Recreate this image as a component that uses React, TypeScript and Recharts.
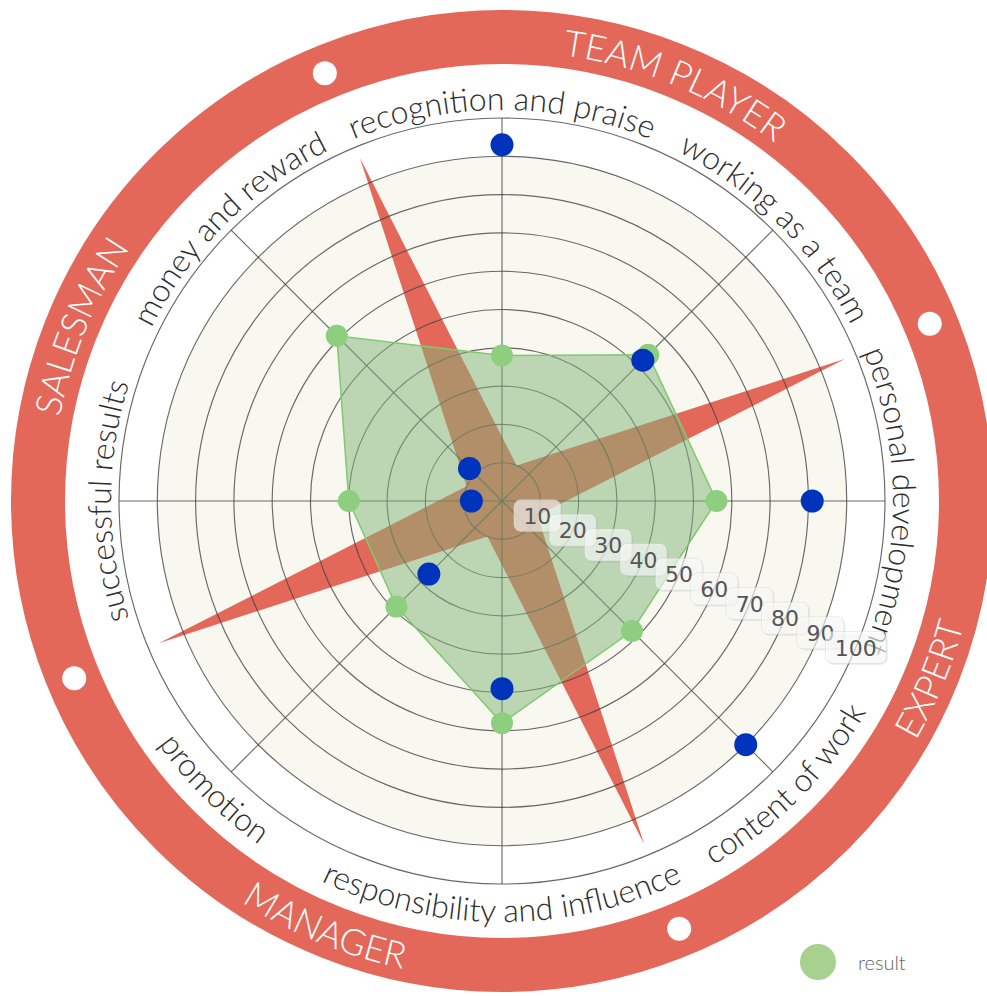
import React from 'react';
import { RadarChart, Radar, PolarGrid, PolarAngleAxis, PolarRadiusAxis, Legend } from 'recharts';

const categories = [
  'recognition and praise',
  'working as a team',
  'personal development',
  'content of work',
  'responsibility and influence',
  'promotion',
  'successful results',
  'money and reward',
];
const resultValues = [38, 54, 56, 48, 58, 39, 40, 61];
const targetValues = [93, 52, 81, 90, 49, 27, 8, 12];
// red star sits between the axes, one value after each category
const starKeys = ['s1', 's2', 's3', 's4', 's5', 's6', 's7', 's8'];
const starValues = [10, 97, 10, 97, 10, 97, 10, 97];
const radiusTicks = [10, 20, 30, 40, 50, 60, 70, 80, 90, 100];

const profileNames = ['TEAM PLAYER', 'EXPERT', 'MANAGER', 'SALESMAN'];
const profileAngles = [67.5, -22.5, 247.5, 157.5];
const ringDotAngles = [22.5, 112.5, 202.5, 292.5];

const W = 987;
const H = 996;
const CX = 502;
const CY = 501;
const RED = '#e4685a';

const data = categories.map((name, i) => ({ key: name, result: resultValues[i], target: targetValues[i] }));
const starData = starKeys.map((key, i) => ({ key, star: starValues[i] }));

const pt = (r: number, a: number) => {
  const rad = (a * Math.PI) / 180;
  return `${CX + r * Math.cos(rad)} ${CY - r * Math.sin(rad)}`;
};

// arc centred on angle, clockwise for the top half, counter-clockwise for the bottom
const arcPath = (r: number, angle: number, clockwise: boolean) =>
  clockwise
    ? `M ${pt(r, angle + 85)} A ${r} ${r} 0 0 1 ${pt(r, angle - 85)}`
    : `M ${pt(r, angle - 85)} A ${r} ${r} 0 0 0 ${pt(r, angle + 85)}`;

const isTop = (angle: number) => Math.sin((angle * Math.PI) / 180) > -0.01;

const AngleTick = (props: any) => {
  const { payload, index } = props;
  const angle = payload.coordinate;
  const cw = isTop(angle);
  const id = `cat-path-${index}`;
  return (
    <g>
      <path id={id} d={arcPath(cw ? 391 : 421, angle, cw)} fill="none" stroke="none" />
      <text fontFamily="Lato" fontWeight={300} fontSize={32} fill="#2e2e2e">
        <textPath href={`#${id}`} startOffset="50%" textAnchor="middle">
          {payload.value}
        </textPath>
      </text>
    </g>
  );
};

const RadiusTick = (props: any) => {
  const { x, y, payload } = props;
  const label = String(payload.value);
  const w = label.length * 14 + 19;
  return (
    <g>
      <rect x={x - w / 2 + 1.5} y={y - 14.5} width={w} height={32} rx={7} fill="rgba(0,0,0,0.06)" />
      <rect x={x - w / 2} y={y - 16} width={w} height={32} rx={7} fill="rgba(255,255,255,0.62)" stroke="rgba(200,200,200,0.4)" />
      <text x={x} y={y + 8} textAnchor="middle" fontFamily="DejaVu Sans" fontSize={22} fill="#555">
        {label}
      </text>
    </g>
  );
};

const LegendContent = (props: any) => (
  <div style={{ display: 'flex', alignItems: 'center' }}>
    {(props.payload || [])
      .filter((p: any) => p.type !== 'none')
      .map((p: any) => (
        <div key={p.value} style={{ display: 'flex', alignItems: 'center' }}>
          <span style={{ width: 36, height: 36, borderRadius: 18, background: '#a8d08f', display: 'inline-block' }} />
          <span style={{ marginLeft: 22, fontFamily: 'Lato', fontWeight: 300, fontSize: 20, color: '#666' }}>{p.value}</span>
        </div>
      ))}
  </div>
);

export default function App() {
  const margin = { top: 0, right: 0, bottom: 0, left: 0 };
  return (
    <div style={{ position: 'absolute', left: 0, top: 0, width: W, height: H, background: '#fff' }}>
      <svg width={W} height={H} style={{ position: 'absolute', left: 0, top: 0 }}>
        <circle cx={CX} cy={CY} r={345} fill="#f8f8f0" />
        <circle cx={CX} cy={CY} r={464} fill="none" stroke={RED} strokeWidth={54} />
        {ringDotAngles.map((a) => {
          const rad = (a * Math.PI) / 180;
          return <circle key={a} cx={CX + 463 * Math.cos(rad)} cy={CY - 463 * Math.sin(rad)} r={12} fill="#fff" />;
        })}
        {profileNames.map((name, i) => {
          const cw = isTop(profileAngles[i]);
          const id = `profile-${i}`;
          return (
            <g key={name}>
              <path id={id} d={arcPath(cw ? 450 : 478, profileAngles[i], cw)} fill="none" />
              <text fontFamily="Lato" fontWeight={300} fontSize={36} fill="#fff">
                <textPath href={`#${id}`} startOffset="50%" textAnchor="middle">
                  {name}
                </textPath>
              </text>
            </g>
          );
        })}
      </svg>

      {/* star profile, rotated half a step against the main axes */}
      <div style={{ position: 'absolute', left: 0, top: 0 }}>
        <RadarChart width={W} height={H} data={starData} cx={CX} cy={CY} outerRadius={383} startAngle={67.5} endAngle={-292.5} margin={margin}>
          <PolarAngleAxis dataKey="key" tick={false} tickLine={false} axisLine={false} />
          <PolarRadiusAxis domain={[0, 100]} tick={false} axisLine={false} tickLine={false} />
          <Radar dataKey="star" fill={RED} fillOpacity={1} stroke="none" dot={false} isAnimationActive={false} />
        </RadarChart>
      </div>

      <div style={{ position: 'absolute', left: 0, top: 0 }}>
        <RadarChart width={W} height={H} data={data} cx={CX} cy={CY} outerRadius={383} margin={margin}>
          <PolarGrid gridType="circle" stroke="#444" strokeOpacity={0.8} strokeWidth={1.15} />
          <PolarAngleAxis dataKey="key" tick={<AngleTick />} tickLine={false} axisLine={false} />
          <Radar
            name="result"
            dataKey="result"
            fill="#7fb377"
            fillOpacity={0.5}
            stroke="#7dcb6c"
            strokeWidth={1.5}
            dot={{ r: 11, fill: '#8dcf7e', fillOpacity: 1, stroke: 'none' }}
            isAnimationActive={false}
          />
          <Radar
            dataKey="target"
            fill="none"
            stroke="none"
            dot={{ r: 11.5, fill: '#0033bb', fillOpacity: 1, stroke: 'none' }}
            legendType="none"
            isAnimationActive={false}
          />
          <PolarRadiusAxis angle={-22.5} domain={[0, 100]} ticks={radiusTicks} tick={<RadiusTick />} axisLine={false} tickLine={false} />
          <Legend
            verticalAlign="bottom"
            align="right"
            content={<LegendContent />}
            wrapperStyle={{ position: 'absolute', left: 800, top: 944, width: 160, bottom: 'auto' }}
          />
        </RadarChart>
      </div>
    </div>
  );
}
